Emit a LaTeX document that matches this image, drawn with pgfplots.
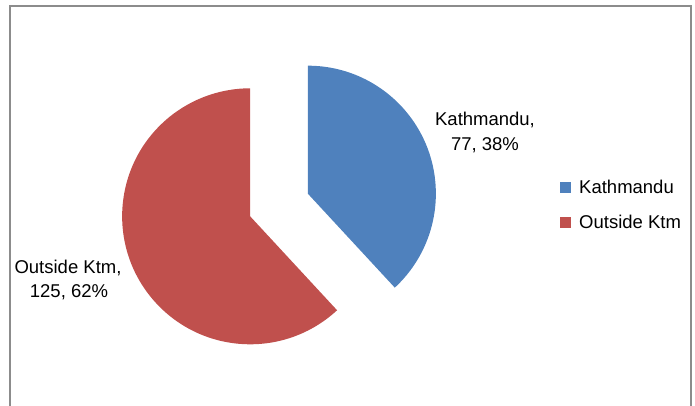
\documentclass[border=0pt]{standalone}
\usepackage{fontspec}
\setmainfont{Liberation Sans}
\usepackage{pgfplots}
\usepackage{pgfplotstable}
\pgfplotsset{compat=1.18}
\definecolor{kblue}{HTML}{4F81BD}
\definecolor{kred}{HTML}{C0504D}
\definecolor{frame}{HTML}{8C8C8C}

\pgfplotstableread[col sep=comma,row sep=\\]{
label,value\\
Kathmandu,77\\
Outside Ktm,125\\
}\piedata

\begin{document}
\begin{tikzpicture}
\pgfplotstablegetelem{0}{value}\of\piedata \let\va\pgfplotsretval
\pgfplotstablegetelem{1}{value}\of\piedata \let\vb\pgfplotsretval
\pgfmathsetmacro\total{\va+\vb}
\pgfmathsetmacro\aEnd{90-\va/\total*360}
\pgfmathsetmacro\aMidA{(90+\aEnd)/2}
\pgfmathsetmacro\aMidB{(\aEnd+(90-360))/2}
\pgfmathsetmacro\bx{279+31*cos(\aMidA)}
\pgfmathsetmacro\by{201+31*sin(\aMidA)}
\pgfmathsetmacro\rx{279+31*cos(\aMidB)}
\pgfmathsetmacro\ry{201+31*sin(\aMidB)}
\path[use as bounding box] (0,0) rectangle (695pt,406pt);
\begin{axis}[
  at={(0,0)}, anchor=south west,
  scale only axis, width=695pt, height=406pt,
  xmin=0, xmax=695, ymin=0, ymax=406,
  hide axis,
  font=\fontsize{18.5}{22}\selectfont,
  legend image code/.code={\fill[#1, draw=none] (0pt,-5.5pt) rectangle (11pt,5.5pt);},
  legend style={draw=none, fill=none, at={(axis cs:560,201)}, anchor=west,
    row sep=16pt, font=\fontsize{18.5}{22}\selectfont, inner sep=0pt,
    /tikz/every odd column/.append style={column sep=6pt}},
  legend cell align=left,
]
\draw[frame, line width=1.4pt] (axis cs:10,400) rectangle (axis cs:691,-20);
\fill[kblue] (axis cs:\bx,\by) -- ++(90:128pt) arc[start angle=90, end angle=\aEnd, radius=128pt] -- cycle;
\fill[kred] (axis cs:\rx,\ry) -- ++(\aEnd:128pt) arc[start angle=\aEnd, end angle=-270, radius=128pt] -- cycle;
\addlegendimage{fill=kblue, draw=none}
\addlegendentry{Kathmandu}
\addlegendimage{fill=kred, draw=none}
\addlegendentry{Outside Ktm}
\node[anchor=base] at (axis cs:485,280) {Kathmandu,};
\node[anchor=base] at (axis cs:485,255) {77, 38\%};
\node[anchor=base] at (axis cs:68,132) {Outside Ktm,};
\node[anchor=base] at (axis cs:69,108) {125, 62\%};
\end{axis}
\end{tikzpicture}
\end{document}
